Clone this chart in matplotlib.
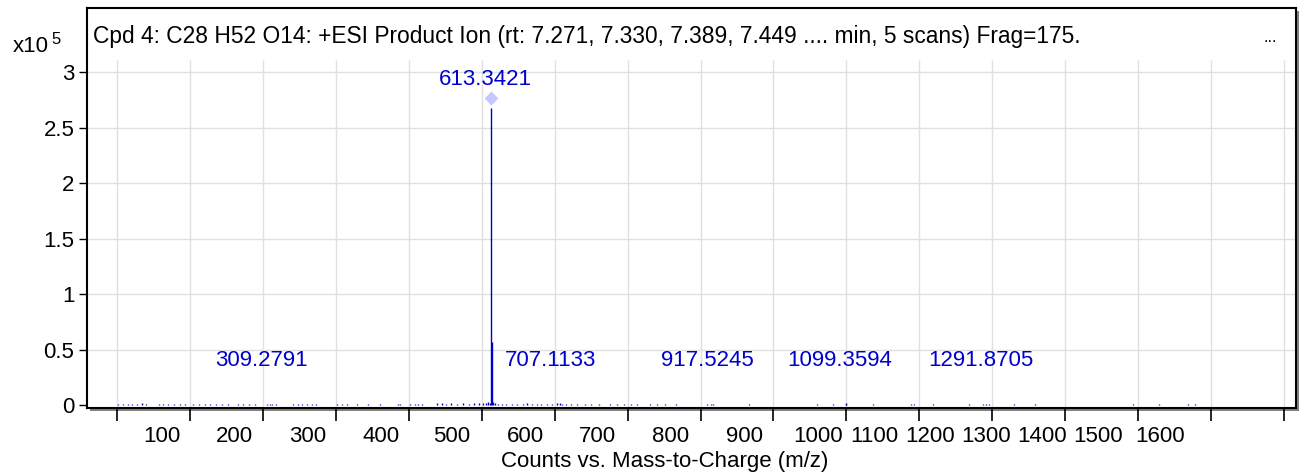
import matplotlib
matplotlib.use('Agg')
from matplotlib import pyplot as plt
from matplotlib.patches import Rectangle
import matplotlib.transforms as mtransforms

plt.rcParams['font.family'] = ['Liberation Sans', 'DejaVu Sans']

# spectrum, intensity in units of 1e5 counts
main_mz = [613.3421, 614.3455]
main_int = [2.68, 0.57]
precursor_mz = 613.3421
precursor_int = 2.77

noise_mz = [102, 108, 115, 121, 128, 134, 140, 157, 163, 170, 178, 186, 193, 204, 212,
            221, 228, 236, 244, 252, 266, 273, 281, 289, 305, 312, 318, 341, 348, 354,
            361, 367, 373, 402, 409, 416, 429, 444, 460, 485, 488, 502, 508, 513, 518,
            539, 545, 551, 558, 566, 574, 582, 590, 597, 602, 606, 609, 611, 616, 618,
            623, 628, 634, 641, 649, 656, 662, 669, 676, 682, 690, 697, 703, 710, 716,
            723, 731, 742, 750, 761, 776, 785, 795, 805, 813, 831, 840, 851, 866, 909,
            915, 967, 1060, 1082, 1100, 1137, 1188, 1193, 1219, 1268, 1288, 1296, 1330,
            1359, 1493, 1529, 1568, 1578]
noise_int = [0.012, 0.010, 0.015, 0.012, 0.010, 0.018, 0.012, 0.010, 0.014, 0.012, 0.016, 0.010, 0.012, 0.014, 0.010,
             0.012, 0.016, 0.012, 0.010, 0.014, 0.012, 0.010, 0.016, 0.012, 0.014, 0.010, 0.012, 0.012, 0.016, 0.010,
             0.014, 0.012, 0.010, 0.012, 0.016, 0.010, 0.012, 0.010, 0.010, 0.012, 0.010, 0.016, 0.012, 0.014, 0.010,
             0.020, 0.018, 0.016, 0.020, 0.015, 0.018, 0.016, 0.020, 0.018, 0.022, 0.025, 0.030, 0.024, 0.028, 0.022,
             0.016, 0.014, 0.012, 0.014, 0.016, 0.012, 0.018, 0.014, 0.012, 0.016, 0.014, 0.012, 0.018, 0.016, 0.012,
             0.014, 0.012, 0.012, 0.010, 0.012, 0.014, 0.010, 0.012, 0.010, 0.014, 0.012, 0.010, 0.012, 0.010, 0.012,
             0.010, 0.010, 0.010, 0.010, 0.012, 0.010, 0.010, 0.010, 0.010, 0.010, 0.010, 0.012, 0.010,
             0.010, 0.010, 0.010, 0.010, 0.010]

label_mz = [309.2791, 707.1133, 917.5245, 1099.3594, 1291.8705]
label_int = [0.015, 0.020, 0.015, 0.020, 0.015]

# axis text
y_ticks = [0, 0.5, 1, 1.5, 2, 2.5, 3]
y_tick_labels = ['0', '0.5', '1', '1.5', '2', '2.5', '3']
x_grid = list(range(100, 1800, 100))
x_tick_labels = ['100', '200', '300', '400', '500', '600', '700', '800', '900',
                 '1000', '1100', '1200', '1300', '1400', '1500', '1600']
x_tick_label_pos = [161.7, 260.4, 361.9, 461.9, 559.3, 659.4, 758.1, 859.5, 961,
                    1061, 1137.8, 1214.6, 1291.4, 1368.2, 1445, 1530]

title = 'Cpd 4: C28 H52 O14: +ESI Product Ion (rt: 7.271, 7.330, 7.389, 7.449 .... min, 5 scans) Frag=175.'
blue = '#0000cc'
fs = 16
W, H = 1301, 475

fig = plt.figure(figsize=(W / 100, H / 100), dpi=100)
left_px, bottom_px, top_px, right_px = 87, 407.5, 8, 1296
ax = fig.add_axes([left_px / W, (H - bottom_px) / H, (right_px - left_px) / W, (bottom_px - top_px) / H])

px_per_mz = (1284 - 117) / 1600
xmin = 100 - (117 - left_px) / px_per_mz
xmax = 1700 + (right_px - 1284) / px_per_mz
y_per_px = 3 / (405.3 - 72)
ymin = -(bottom_px - 405.3) * y_per_px
ax.set_xlim(xmin, xmax)
ax.set_ylim(ymin, ymin + (bottom_px - top_px) * y_per_px)
grid_top = (405.3 - 60) * y_per_px

# shadow under bottom / right edge
shadow = Rectangle(((left_px + 3) / W, (H - bottom_px - 3) / H), (right_px - left_px) / W, (bottom_px - top_px) / H,
                   transform=fig.transFigure, facecolor='#808080', edgecolor='none', zorder=0)
fig.add_artist(shadow)
ax.set_zorder(1)

# grid
for y in y_ticks[1:]:
    ax.plot([xmin, xmax], [y, y], color='#e0e0e0', lw=1, zorder=0)
ax.vlines(x_grid, ymin, grid_top, color='#e0e0e0', lw=1, zorder=0)

# spectrum
ax.vlines(noise_mz, 0, noise_int, color=blue, lw=1, zorder=2)
ax.vlines(label_mz, 0, label_int, color=blue, lw=1, zorder=2)
ax.vlines(main_mz, 0, main_int, color=blue, lw=1, zorder=3)
ax.plot([precursor_mz], [precursor_int], marker='D', ms=7, color='#c8c8ff', mec='none', zorder=4)

# peak labels
ax.text(precursor_mz - 8, 2.93, '613.3421', color=blue, fontsize=fs, ha='center', va='center')
label_shift = [-11, -12, -8, -9, -8]
for mz, dx in zip(label_mz, label_shift):
    ax.text(mz + dx, 0.40, f'{mz:.4f}', color=blue, fontsize=fs, ha='center', va='center')

# axes styling
for s in ax.spines.values():
    s.set_linewidth(1.5)
    s.set_color('black')
ax.set_yticks(y_ticks)
ax.set_yticklabels(y_tick_labels, fontsize=fs)
ax.set_xticks(x_grid)
ax.set_xticklabels([])
ax.tick_params(axis='y', length=6, width=1, pad=3)
ax.tick_params(axis='x', length=9, width=1.2, direction='out')

trans = mtransforms.blended_transform_factory(ax.transData, fig.transFigure)
for pos, lab in zip(x_tick_label_pos, x_tick_labels):
    ax.text(pos, 1 - 437 / H, lab, transform=trans, fontsize=fs, ha='center', va='center', clip_on=False)

fig.text(665 / W, 1 - 461 / H, 'Counts vs. Mass-to-Charge (m/z)', fontsize=fs, ha='center', va='center')
fig.text(93 / W, 1 - 37 / H, title, fontsize=16.4, ha='left', va='center')
fig.text(1270 / W, 1 - 38 / H, '...', fontsize=12, ha='center', va='center')
fig.text(31 / W, 1 - 47 / H, 'x10', fontsize=fs, ha='center', va='center')
fig.text(56 / W, 1 - 40 / H, '5', fontsize=12, ha='center', va='center')

fig.savefig('out.png', dpi=100)
